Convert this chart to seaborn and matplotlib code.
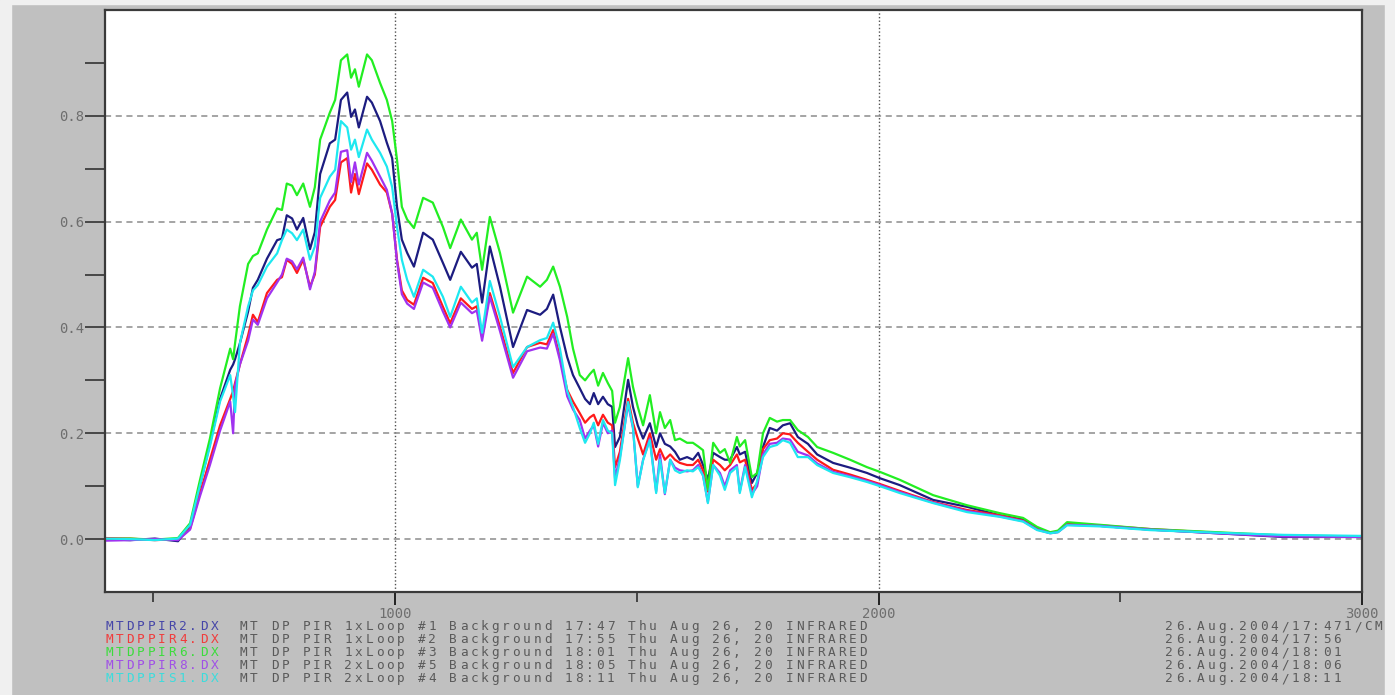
import matplotlib
matplotlib.use("Agg")
import matplotlib.pyplot as plt
from matplotlib.patches import Rectangle
from matplotlib.ticker import FixedLocator, NullFormatter
import pandas as pd
import seaborn as sns

# Five IR spectra (absorbance vs wavenumber, 1/cm)
wavenumber = [400, 452, 503, 551, 576, 596, 617, 638, 659, 665,
              669, 679, 696, 706, 716, 735, 756, 766, 776, 787,
              797, 810, 824, 834, 845, 865, 876, 888, 901, 909,
              917, 925, 942, 952, 969, 983, 994, 1004, 1014, 1025,
              1039, 1058, 1078, 1099, 1114, 1136, 1159, 1169, 1180, 1196,
              1217, 1244, 1273, 1300, 1314, 1327, 1341, 1356, 1368, 1382,
              1393, 1403, 1411, 1420, 1430, 1440, 1449, 1455, 1465, 1482,
              1492, 1502, 1513, 1527, 1540, 1548, 1558, 1569, 1579, 1589,
              1604, 1616, 1627, 1637, 1647, 1658, 1672, 1682, 1693, 1707,
              1713, 1724, 1738, 1749, 1761, 1775, 1790, 1802, 1817, 1833,
              1854, 1873, 1906, 1941, 1976, 2003, 2044, 2113, 2183, 2251,
              2299, 2328, 2355, 2371, 2390, 2458, 2561, 2700, 2837, 3000]

mtdppir2 = [0.000, -0.002, 0.001, -0.004, 0.025, 0.10, 0.18, 0.265, 0.32, 0.33,
            0.34, 0.37, 0.43, 0.475, 0.49, 0.53, 0.565, 0.568, 0.612, 0.606,
            0.585, 0.607, 0.548, 0.58, 0.69, 0.748, 0.755, 0.83, 0.844, 0.798,
            0.812, 0.778, 0.836, 0.825, 0.79, 0.749, 0.72, 0.628, 0.566, 0.541,
            0.515, 0.579, 0.566, 0.522, 0.49, 0.543, 0.513, 0.52, 0.447, 0.553,
            0.477, 0.363, 0.433, 0.424, 0.435, 0.462, 0.401, 0.344, 0.31, 0.285,
            0.265, 0.255, 0.276, 0.255, 0.269, 0.255, 0.25, 0.174, 0.193, 0.301,
            0.25, 0.215, 0.19, 0.219, 0.174, 0.2, 0.18, 0.175, 0.165, 0.15,
            0.155, 0.15, 0.163, 0.14, 0.112, 0.163, 0.155, 0.15, 0.15, 0.174,
            0.16, 0.165, 0.106, 0.125, 0.174, 0.21, 0.205, 0.215, 0.219, 0.193,
            0.18, 0.16, 0.144, 0.135, 0.125, 0.115, 0.102, 0.074, 0.061, 0.045,
            0.037, 0.02, 0.012, 0.014, 0.028, 0.025, 0.018, 0.011, 0.004, 0.004]

mtdppir4 = [0.002, 0.001, -0.002, 0.000, 0.02, 0.085, 0.15, 0.215, 0.265, 0.28,
            0.295, 0.33, 0.385, 0.424, 0.41, 0.465, 0.49, 0.495, 0.528, 0.52,
            0.503, 0.528, 0.477, 0.5, 0.59, 0.628, 0.641, 0.712, 0.72, 0.655,
            0.69, 0.652, 0.71, 0.698, 0.67, 0.655, 0.615, 0.528, 0.47, 0.452,
            0.443, 0.494, 0.484, 0.439, 0.408, 0.455, 0.435, 0.44, 0.382, 0.465,
            0.401, 0.314, 0.363, 0.371, 0.368, 0.395, 0.344, 0.282, 0.26, 0.238,
            0.22, 0.23, 0.235, 0.215, 0.235, 0.22, 0.215, 0.136, 0.165, 0.265,
            0.22, 0.19, 0.16, 0.2, 0.15, 0.17, 0.15, 0.16, 0.15, 0.144,
            0.14, 0.14, 0.15, 0.13, 0.09, 0.15, 0.14, 0.13, 0.14, 0.16,
            0.145, 0.15, 0.093, 0.105, 0.17, 0.187, 0.19, 0.2, 0.198, 0.182,
            0.165, 0.15, 0.131, 0.122, 0.112, 0.104, 0.091, 0.07, 0.055, 0.045,
            0.035, 0.019, 0.012, 0.014, 0.029, 0.026, 0.019, 0.012, 0.006, 0.005]

mtdppir6 = [0.000, 0.001, -0.001, 0.002, 0.03, 0.11, 0.19, 0.285, 0.36, 0.34,
            0.37, 0.44, 0.52, 0.535, 0.54, 0.585, 0.625, 0.622, 0.672, 0.668,
            0.65, 0.672, 0.628, 0.665, 0.755, 0.806, 0.83, 0.905, 0.916, 0.872,
            0.888, 0.855, 0.916, 0.905, 0.862, 0.83, 0.79, 0.717, 0.628, 0.604,
            0.588, 0.645, 0.636, 0.59, 0.55, 0.604, 0.566, 0.579, 0.509, 0.609,
            0.541, 0.428, 0.496, 0.477, 0.49, 0.515, 0.477, 0.42, 0.36, 0.31,
            0.30, 0.312, 0.32, 0.29, 0.314, 0.295, 0.28, 0.22, 0.25, 0.342,
            0.288, 0.25, 0.215, 0.272, 0.2, 0.24, 0.21, 0.225, 0.187, 0.19,
            0.182, 0.182, 0.175, 0.168, 0.093, 0.182, 0.163, 0.17, 0.144, 0.193,
            0.175, 0.187, 0.117, 0.125, 0.2, 0.229, 0.222, 0.225, 0.225, 0.206,
            0.193, 0.174, 0.163, 0.15, 0.136, 0.127, 0.112, 0.083, 0.064, 0.049,
            0.04, 0.023, 0.013, 0.016, 0.032, 0.027, 0.019, 0.013, 0.007, 0.005]

mtdppir8 = [-0.003, -0.002, 0.000, -0.002, 0.018, 0.08, 0.14, 0.205, 0.26, 0.20,
            0.29, 0.33, 0.375, 0.415, 0.405, 0.455, 0.485, 0.5, 0.53, 0.525,
            0.51, 0.532, 0.472, 0.505, 0.6, 0.64, 0.655, 0.732, 0.735, 0.675,
            0.712, 0.67, 0.73, 0.715, 0.685, 0.66, 0.615, 0.525, 0.463, 0.445,
            0.435, 0.485, 0.475, 0.43, 0.4, 0.447, 0.427, 0.432, 0.375, 0.458,
            0.393, 0.305, 0.355, 0.362, 0.36, 0.388, 0.338, 0.27, 0.245, 0.225,
            0.19, 0.205, 0.215, 0.175, 0.22, 0.2, 0.205, 0.115, 0.155, 0.255,
            0.21, 0.1, 0.15, 0.19, 0.09, 0.16, 0.085, 0.15, 0.135, 0.13,
            0.128, 0.13, 0.14, 0.12, 0.07, 0.14, 0.125, 0.1, 0.13, 0.14,
            0.09, 0.14, 0.085, 0.1, 0.16, 0.18, 0.182, 0.19, 0.188, 0.165,
            0.158, 0.143, 0.127, 0.119, 0.11, 0.102, 0.089, 0.069, 0.053, 0.043,
            0.034, 0.018, 0.011, 0.013, 0.027, 0.025, 0.018, 0.011, 0.005, 0.004]

mtdppis1 = [0.001, 0.000, -0.002, 0.001, 0.027, 0.10, 0.175, 0.26, 0.31, 0.27,
            0.24, 0.37, 0.44, 0.47, 0.48, 0.515, 0.54, 0.565, 0.585, 0.578,
            0.565, 0.585, 0.528, 0.553, 0.645, 0.685, 0.698, 0.79, 0.778, 0.736,
            0.755, 0.722, 0.774, 0.755, 0.73, 0.704, 0.665, 0.59, 0.528, 0.49,
            0.458, 0.509, 0.496, 0.458, 0.42, 0.477, 0.447, 0.455, 0.39, 0.488,
            0.42, 0.325, 0.363, 0.376, 0.38, 0.409, 0.36, 0.28, 0.25, 0.21,
            0.182, 0.2, 0.22, 0.18, 0.225, 0.205, 0.2, 0.102, 0.149, 0.259,
            0.212, 0.098, 0.149, 0.187, 0.087, 0.15, 0.087, 0.15, 0.13, 0.125,
            0.13, 0.128, 0.136, 0.12, 0.068, 0.14, 0.12, 0.093, 0.125, 0.136,
            0.087, 0.136, 0.079, 0.11, 0.155, 0.174, 0.178, 0.187, 0.182, 0.155,
            0.155, 0.14, 0.125, 0.117, 0.108, 0.1, 0.087, 0.068, 0.051, 0.042,
            0.033, 0.017, 0.011, 0.013, 0.026, 0.024, 0.017, 0.012, 0.008, 0.006]

files = ["MTDPPIR2.DX", "MTDPPIR4.DX", "MTDPPIR6.DX", "MTDPPIR8.DX", "MTDPPIS1.DX"]
titles = ["MT DP PIR 1xLoop #1 Background 17:47 Thu Aug 26, 20 INFRARED",
          "MT DP PIR 1xLoop #2 Background 17:55 Thu Aug 26, 20 INFRARED",
          "MT DP PIR 1xLoop #3 Background 18:01 Thu Aug 26, 20 INFRARED",
          "MT DP PIR 2xLoop #5 Background 18:05 Thu Aug 26, 20 INFRARED",
          "MT DP PIR 2xLoop #4 Background 18:11 Thu Aug 26, 20 INFRARED"]
stamps = ["26.Aug.2004/17:47", "26.Aug.2004/17:56", "26.Aug.2004/18:01",
          "26.Aug.2004/18:06", "26.Aug.2004/18:11"]
x_unit = "1/CM"
y_major = [0.0, 0.2, 0.4, 0.6, 0.8]
y_minor = [0.1, 0.3, 0.5, 0.7, 0.9]
x_major = [1000, 2000, 3000]
x_minor = [500, 1500, 2500]

line_colors = ["#1c1c80", "#ff1a1a", "#22ee22", "#a032f0", "#1ee8f0"]
name_colors = ["#4646a8", "#f03c3c", "#3cdc3c", "#a050e6", "#3cdcdc"]

W, H = 1395, 695
plt.rcParams["font.family"] = ["DejaVu Sans Mono"]

series = [mtdppir2, mtdppir4, mtdppir6, mtdppir8, mtdppis1]
df = pd.concat([pd.DataFrame({"wavenumber": wavenumber, "absorbance": s, "file": f})
                for f, s in zip(files, series)], ignore_index=True)

fig = plt.figure(figsize=(W / 100, H / 100), dpi=100, facecolor="#c0c0c0")
# lighter frame strips around the grey panel
for x0, y0, w, h in [(0, 0, 11, H), (0, 0, W, 4), (1385, 0, 10, H)]:
    fig.patches.append(Rectangle((x0 / W, 1 - (y0 + h) / H), w / W, h / H,
                                 transform=fig.transFigure, color="#f0f0f0", zorder=0))

ax = fig.add_axes([105 / W, (H - 592) / H, 1257 / W, 582 / H])
ax.set_facecolor("white")

sns.lineplot(data=df, x="wavenumber", y="absorbance", hue="file", hue_order=files,
             palette=dict(zip(files, line_colors)), estimator=None, sort=False,
             legend=False, linewidth=1.6, ax=ax)

ax.set_xlim(400, 3000)
ax.set_ylim(-0.1, 1.0)
ax.set_xlabel("")
ax.set_ylabel("")

ax.xaxis.set_major_locator(FixedLocator(x_major))
ax.xaxis.set_minor_locator(FixedLocator(x_minor))
ax.yaxis.set_major_locator(FixedLocator(y_major))
ax.yaxis.set_minor_locator(FixedLocator(y_minor))
ax.set_yticklabels([f"{v:.1f}" for v in y_major])
ax.set_xticklabels([str(v) for v in x_major])
ax.yaxis.set_minor_formatter(NullFormatter())

ax.tick_params(axis="y", which="both", direction="out", length=14.4, width=1.2,
               color="#333333", labelsize=10, labelcolor="#6e6e6e", pad=0.8)
ax.tick_params(axis="x", which="major", direction="out", length=9.4, width=1.4,
               color="#222222", labelsize=10, labelcolor="#6e6e6e", pad=1.5)
ax.tick_params(axis="x", which="minor", direction="out", length=7, width=1.4,
               color="#444444")

ax.set_axisbelow(True)
ax.yaxis.grid(True, which="major", linestyle=(0, (4, 3)), color="#8c8c8c", linewidth=1.1)
ax.xaxis.grid(True, which="major", linestyle=(0, (1, 1.6)), color="#505050", linewidth=1.0)

for sp in ax.spines.values():
    sp.set_color("#3a3a3a")
    sp.set_linewidth(1.6)


def mono_row(x0, baseline, text, color, pitch=10.5):
    # fixed-pitch text, one glyph per cell, to mimic the wide instrument font
    for i, ch in enumerate(text):
        if ch == " ":
            continue
        fig.text((x0 + (i + 0.5) * pitch) / W, 1 - baseline / H, ch, ha="center",
                 va="baseline", color=color, fontsize=9.2, family="DejaVu Sans Mono")


for k in range(len(files)):
    base = 630 + 13 * k
    mono_row(104, base, files[k], name_colors[k])
    mono_row(238, base, titles[k], "#5a5a5a")
    mono_row(1164, base, stamps[k], "#5a5a5a")
mono_row(1342, 630, x_unit, "#5a5a5a")

fig.savefig("out.png", dpi=100, facecolor=fig.get_facecolor())
